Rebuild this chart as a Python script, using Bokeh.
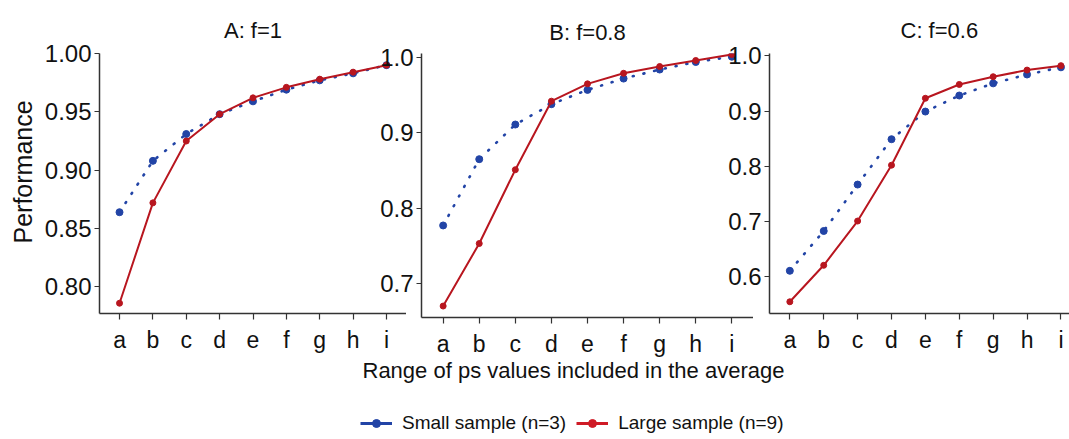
from bokeh.plotting import figure
from bokeh.layouts import column, row
from bokeh.models import (Range1d, FixedTicker, NumeralTickFormatter, Legend,
                          LegendItem, Title, Label)
from bokeh.embed import file_html
from bokeh.resources import INLINE

# ---------------- data ----------------
categories = ["a", "b", "c", "d", "e", "f", "g", "h", "i"]
panel_titles = ["A: f=1", "B: f=0.8", "C: f=0.6"]
x_label = "Range of ps values included in the average"
y_label = "Performance"
series_names = ["Small sample (n=3)", "Large sample (n=9)"]

small_A = [0.864, 0.908, 0.931, 0.948, 0.959, 0.969, 0.977, 0.983, 0.990]
large_A = [0.786, 0.872, 0.925, 0.948, 0.962, 0.971, 0.978, 0.984, 0.990]
small_B = [0.777, 0.865, 0.911, 0.938, 0.957, 0.972, 0.984, 0.994, 1.001]
large_B = [0.670, 0.753, 0.851, 0.942, 0.965, 0.979, 0.988, 0.996, 1.004]
small_C = [0.611, 0.683, 0.767, 0.849, 0.899, 0.928, 0.950, 0.966, 0.979]
large_C = [0.555, 0.621, 0.701, 0.802, 0.923, 0.948, 0.962, 0.974, 0.982]

yticks_A = [0.80, 0.85, 0.90, 0.95, 1.00]
yticks_B = [0.7, 0.8, 0.9, 1.0]
yticks_C = [0.6, 0.7, 0.8, 0.9, 1.0]

# ---------------- style ----------------
FONT = "Liberation Sans"
BLUE = "#2244a6"
RED = "#b8161f"
RED_LEG = "#cf1b26"
AXIS = "#333333"
TXT = "#111111"

xpos = list(range(1, len(categories) + 1))


def panel(title, small, large, yr, xr, yticks, fmt, frame_w, frame_h,
          left, top, title_standoff, title_align="center", title_offset=0,
          margin=(0, 0, 0, 0)):
    p = figure(frame_width=frame_w, frame_height=frame_h,
               x_range=Range1d(*xr), y_range=Range1d(*yr),
               output_backend="svg", toolbar_location=None, tools="",
               min_border_left=left, min_border_right=0,
               min_border_top=top, min_border_bottom=46,
               margin=margin)
    p.border_fill_color = None
    p.background_fill_color = None
    p.outline_line_color = None
    p.xgrid.grid_line_color = None
    p.ygrid.grid_line_color = None

    p.title.text = title
    p.title.align = title_align
    p.title.offset = title_offset
    p.title.standoff = title_standoff
    p.title.text_font = FONT
    p.title.text_font_size = "22px"
    p.title.text_font_style = "normal"
    p.title.text_color = TXT

    for ax in (p.xaxis[0], p.yaxis[0]):
        ax.axis_line_color = AXIS
        ax.axis_line_width = 1.5
        ax.major_tick_line_color = AXIS
        ax.major_tick_line_width = 1.2
        ax.major_tick_in = 0
        ax.minor_tick_line_color = None
        ax.major_label_text_font = FONT
        ax.major_label_text_color = TXT

    p.xaxis.ticker = FixedTicker(ticks=xpos)
    p.xaxis.major_label_overrides = {x: c for x, c in zip(xpos, categories)}
    p.xaxis.major_tick_out = 6
    p.xaxis.major_label_standoff = 7
    p.xaxis.major_label_text_font_size = "23px"
    p.yaxis.ticker = FixedTicker(ticks=yticks)
    p.yaxis.formatter = NumeralTickFormatter(format=fmt)
    p.yaxis.major_tick_out = 5
    p.yaxis.major_label_standoff = 3
    p.yaxis.major_label_text_font_size = "24px"

    p.line(xpos, small, line_color=BLUE, line_width=2.6, line_dash="1 10",
           line_cap="round")
    p.scatter(xpos, small, size=7, fill_color=BLUE, line_color=BLUE)
    p.line(xpos, large, line_color=RED, line_width=2)
    p.scatter(xpos, large, size=6, fill_color=RED, line_color=RED)
    return p


pA = panel(panel_titles[0], small_A, large_A, (0.7772, 1.0), (0.4, 9.6),
           yticks_A, "0.00", 307, 260, 99, 53, 21)
ylab = Title(text=y_label, align="left", offset=70, standoff=10,
             text_font=FONT, text_font_size="25px", text_font_style="normal",
             text_color=TXT)
pA.add_layout(ylab, "left")

pB = panel(panel_titles[1], small_B, large_B, (0.6548, 1.0053), (0.4, 9.6),
           yticks_B, "0.0", 332, 264, 42, 49, 17, margin=(0, 0, 0, -29))
pC = panel(panel_titles[2], small_C, large_C, (0.5338, 1.004), (0.4, 9.4),
           yticks_C, "0.0", 305, 260, 42, 53, 21, title_align="left",
           title_offset=131, margin=(0, 0, 0, -28))

# ---------------- x label + legend strip ----------------
lg = figure(width=1069, height=80, x_range=Range1d(0, 1), y_range=Range1d(0, 0.1),
            output_backend="svg", toolbar_location=None, tools="",
            min_border=0, x_axis_location=None, y_axis_location=None)
lg.outline_line_color = None
lg.border_fill_color = None
lg.background_fill_color = None
lg.xgrid.grid_line_color = None
lg.ygrid.grid_line_color = None

xlab = Label(x=362, y=69, x_units="screen", y_units="screen", text=x_label,
             text_font=FONT, text_font_size="22px", text_color=TXT,
             text_baseline="middle", text_align="left")
lg.add_layout(xlab)

# legend-only renderers (their data lie outside this strip's visible range)
bl = lg.line(xpos, small_A, line_color=BLUE, line_width=3)
bs = lg.scatter(xpos, small_A, size=7, fill_color=BLUE, line_color=BLUE)
rl = lg.line(xpos, large_A, line_color=RED_LEG, line_width=3)
rs = lg.scatter(xpos, large_A, size=7, fill_color=RED_LEG, line_color=RED_LEG)
legend = Legend(items=[LegendItem(label=series_names[0], renderers=[bl, bs]),
                       LegendItem(label=series_names[1], renderers=[rl, rs])],
                orientation="horizontal", location=(360, 5),
                padding=0, margin=0, spacing=10, label_standoff=10,
                glyph_width=32, glyph_height=20,
                label_text_font=FONT, label_text_font_size="19px",
                label_text_color=TXT,
                border_line_color=None, background_fill_color=None)
lg.add_layout(legend, "center")

layout = column(row(pA, pB, pC), lg)

with open("out.html", "w") as f:
    f.write(file_html(layout, INLINE))
